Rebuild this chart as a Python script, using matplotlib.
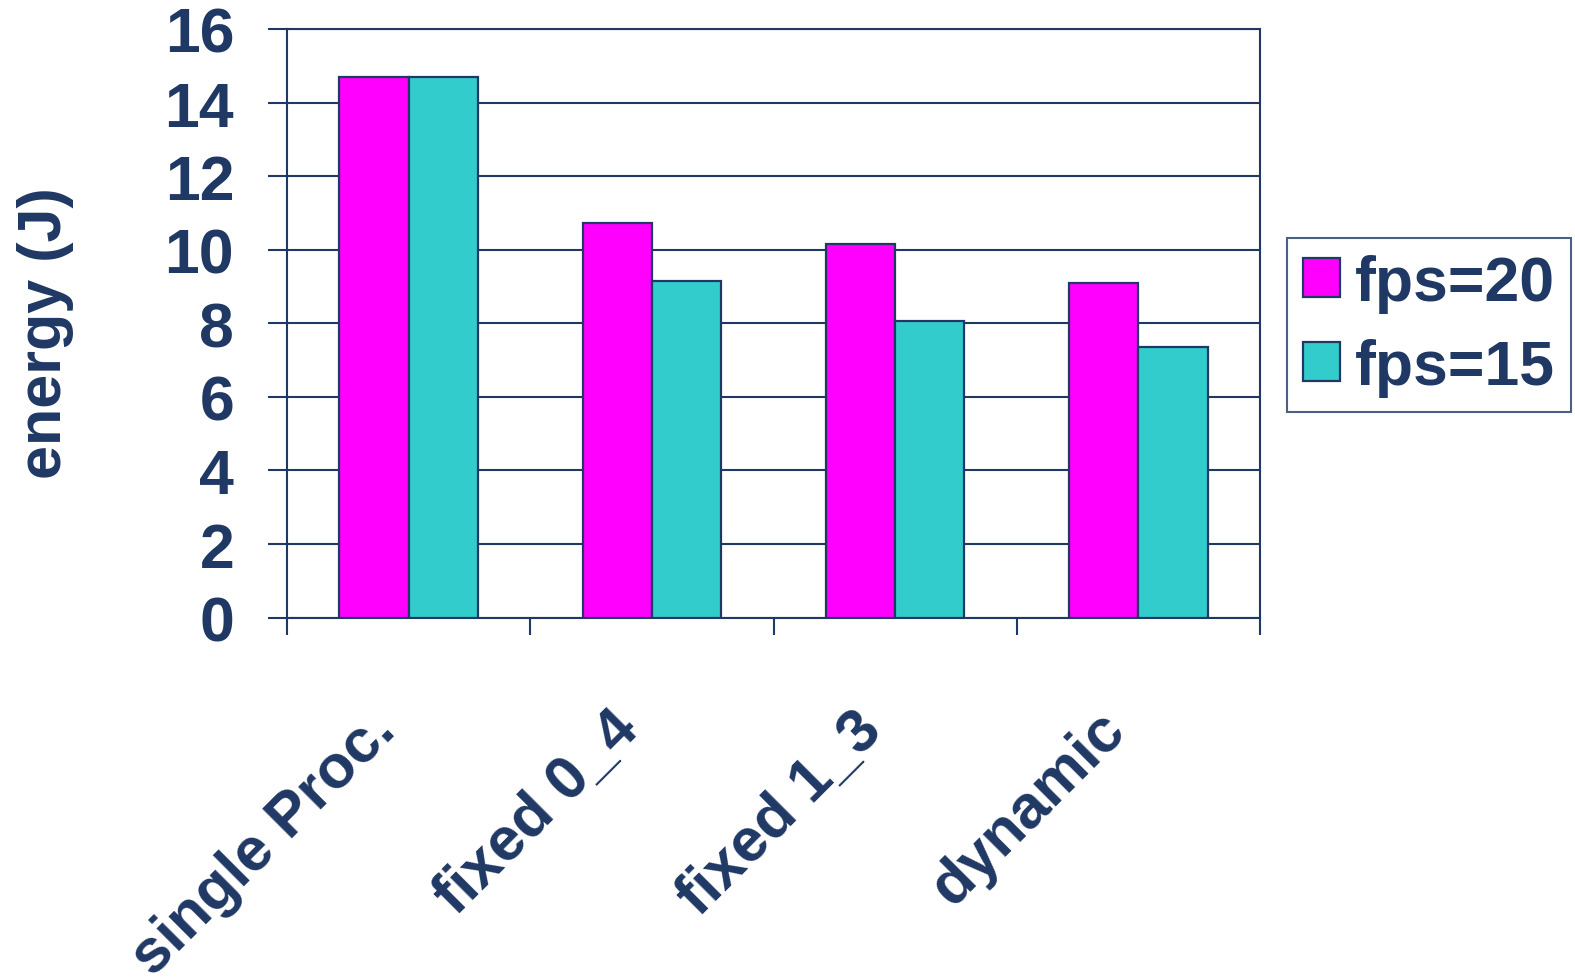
import matplotlib
matplotlib.use("Agg")
import matplotlib.pyplot as plt
import matplotlib.transforms as mtransforms
import numpy as np
from matplotlib.ticker import FixedLocator, NullFormatter

# Energy per configuration (J)
categories = ["single Proc.", "fixed 0_4", "fixed 1_3", "dynamic"]
fps20 = [14.7, 10.72, 10.16, 9.09]
fps15 = [14.7, 9.15, 8.07, 7.35]
series_labels = ["fps=20", "fps=15"]
y_ticks = [0, 2, 4, 6, 8, 10, 12, 14, 16]

NAVY = "#1F3864"
PINK = "#FF00FF"
TEAL = "#33CCCC"

plt.rcParams["font.family"] = ["Liberation Sans", "DejaVu Sans"]
plt.rcParams["font.weight"] = "bold"

W, H = 1575, 979
fig = plt.figure(figsize=(W / 100, H / 100), dpi=100)
ax = fig.add_axes([287 / W, 1 - 618.5 / H, (1260 - 287) / W, (618.5 - 30) / H])

x = np.arange(len(categories))
bw = 0.285
ax.bar(x - bw / 2, fps20, bw, color=PINK, edgecolor=NAVY, linewidth=1.6,
       label=series_labels[0], zorder=3)
ax.bar(x + bw / 2, fps15, bw, color=TEAL, edgecolor=NAVY, linewidth=1.6,
       label=series_labels[1], zorder=3)

ax.set_xlim(-0.5, len(categories) - 0.5)
ax.set_ylim(0, 16)
ax.set_yticks(y_ticks)
ax.set_yticklabels([str(t) for t in y_ticks], fontsize=45, color=NAVY,
                   fontweight="bold")
ax.tick_params(axis="y", length=14, width=1.5, color=NAVY, pad=24)

# category labels at centres, tick marks at group boundaries
ax.set_xticks(x)
ax.set_xticklabels(categories, fontsize=44, color=NAVY, fontweight="bold",
                   rotation=45, ha="right", va="center",
                   rotation_mode="anchor")
ax.tick_params(axis="x", which="major", length=0, pad=95)
shift = mtransforms.ScaledTranslation(-22 / 100, 29 / 100, fig.dpi_scale_trans)
for lbl in ax.get_xticklabels():
    lbl.set_transform(lbl.get_transform() + shift)
ax.xaxis.set_minor_locator(FixedLocator(np.arange(-0.5, len(categories), 1.0)))
ax.xaxis.set_minor_formatter(NullFormatter())
ax.tick_params(axis="x", which="minor", length=12, width=1.5, color=NAVY)

ax.yaxis.grid(True, color=NAVY, linewidth=1.5, zorder=0)
ax.set_axisbelow(True)
for s in ax.spines.values():
    s.set_color(NAVY)
    s.set_linewidth(1.5)

ax.set_ylabel("energy (J)", fontsize=44, color=NAVY, fontweight="bold",
              labelpad=65)
ax.yaxis.label.set_y(0.5 - 9 / 588)

leg = fig.legend(loc="upper left",
                 bbox_to_anchor=(1287 / W, 1 - 239 / H),
                 fontsize=45, frameon=True, fancybox=False,
                 handlelength=0.6, handleheight=0.6, handletextpad=0.24,
                 borderpad=0.25, labelspacing=0.4, borderaxespad=0)
leg.get_frame().set_edgecolor(NAVY)
leg.get_frame().set_linewidth(1.5)
for t in leg.get_texts():
    t.set_color(NAVY)
    t.set_fontweight("bold")

fig.savefig("out.png", dpi=100, facecolor="white")
